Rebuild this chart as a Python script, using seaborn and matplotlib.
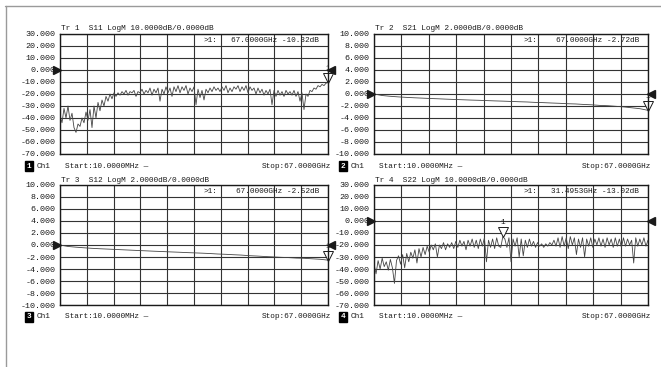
import numpy as np
import matplotlib
matplotlib.use('Agg')
import matplotlib.pyplot as plt
import matplotlib.transforms as mtransforms
from matplotlib.lines import Line2D
import seaborn as sns

# sweep (linear, as on the analyzer)
START_GHZ = 0.01
STOP_GHZ = 67.0

# S11, ~0.5 GHz steps
s11_db = [
    -38, -44, -32, -40, -30, -42, -36, -48, -52, -45,
    -47, -40, -44, -35, -42, -33, -48, -30, -40, -27,
    -34, -25, -30, -22, -26, -20, -24, -19, -22, -19,
    -21, -18, -20, -17, -21, -18, -19, -17, -22, -18,
    -19, -16, -20, -17, -19, -15, -21, -16, -19, -15,
    -26, -16, -20, -14, -19, -15, -22, -14, -18, -13,
    -19, -14, -17, -13, -20, -15, -18, -14, -29, -16,
    -23, -17, -25, -16, -19, -15, -18, -14, -17, -15,
    -18, -14, -17, -13, -19, -15, -18, -14, -16, -13,
    -18, -14, -17, -13, -19, -14, -17, -15, -20, -15,
    -19, -16, -21, -17, -20, -16, -29, -17, -22, -17,
    -21, -18, -22, -17, -20, -18, -21, -17, -22, -18,
    -26, -19, -33, -20, -22, -17, -18, -15, -16, -13,
    -14, -12, -13, -11, -10.32,
]

# S22, ~0.5 GHz steps
s22_db = [
    -36, -44, -33, -40, -31, -38, -34, -41, -32, -39,
    -52, -33, -29, -36, -28, -39, -27, -34, -26, -31,
    -24, -35, -23, -30, -22, -28, -21, -26, -20, -24,
    -19, -30, -20, -23, -18, -24, -19, -22, -18, -23,
    -17, -22, -16, -21, -17, -24, -16, -21, -15, -22,
    -16, -23, -15, -21, -14, -34, -16, -22, -15, -23,
    -14, -21, -22, -13, -15, -22, -14, -34, -15, -21,
    -14, -30, -15, -29, -16, -22, -15, -21, -17, -22,
    -18, -21, -19, -22, -19, -21, -18, -20, -16, -21,
    -14, -22, -13, -21, -14, -23, -13, -20, -14, -28,
    -15, -22, -14, -30, -15, -21, -14, -22, -15, -20,
    -14, -21, -15, -22, -14, -20, -15, -22, -14, -21,
    -15, -22, -14, -21, -15, -20, -16, -35, -14, -21,
    -15, -20, -14, -21, -16,
]

# S21 / S12, ~2 GHz steps
s21_db = [
    0.00, -0.25, -0.38, -0.48, -0.56, -0.63, -0.69, -0.75, -0.80, -0.86,
    -0.91, -0.96, -1.01, -1.05, -1.10, -1.15, -1.19, -1.24, -1.29, -1.33,
    -1.40, -1.44, -1.50, -1.55, -1.62, -1.66, -1.74, -1.80, -1.90, -1.95,
    -2.05, -2.15, -2.30, -2.45, -2.72,
]
s12_db = [
    0.00, -0.24, -0.36, -0.46, -0.55, -0.62, -0.68, -0.74, -0.80, -0.86,
    -0.92, -0.98, -1.04, -1.09, -1.15, -1.20, -1.26, -1.31, -1.36, -1.42,
    -1.50, -1.55, -1.62, -1.68, -1.78, -1.84, -1.92, -1.98, -2.05, -2.10,
    -2.18, -2.22, -2.30, -2.38, -2.52,
]

trace_names = ['S11', 'S21', 'S12', 'S22']
trace_data = [s11_db, s21_db, s12_db, s22_db]
scale_db = [10, 2, 2, 10]
top_db = [30, 10, 10, 30]
ref_db = [0, 0, 0, 0]
marker_ghz = [67.0, 67.0, 67.0, 31.4953]
marker_db = [-10.32, -2.72, -2.52, -13.02]

# panel boxes in pixels: left, top, right, bottom
boxes = [(60, 34, 328, 154), (374, 34, 648, 154),
         (60, 185, 328, 305), (374, 185, 648, 305)]

W, H = 661, 367
sns.set_style('white')
plt.rcParams['font.family'] = ['Liberation Mono', 'DejaVu Sans Mono']
FS = 5.6
INK = '#1a1a1a'
GRID = '#333333'
TRACE = '#454545'

fig = plt.figure(figsize=(W / 100, H / 100), dpi=100)


def ftext(x, y, s, **kw):
    kw.setdefault('va', 'center')
    kw.setdefault('fontsize', FS)
    kw.setdefault('color', INK)
    return fig.text(x / W, 1 - y / H, s, **kw)


# outer frame (top and left only)
fig.add_artist(Line2D([5 / W, 1], [1 - 6 / H, 1 - 6 / H], color='#9a9a9a', lw=1.0))
fig.add_artist(Line2D([6 / W, 6 / W], [0, 1 - 6 / H], color='#9a9a9a', lw=1.0))

for k in range(4):
    l, t, r, b = boxes[k]
    ax = fig.add_axes([l / W, 1 - b / H, (r - l) / W, (b - t) / H])
    vals = trace_data[k]
    freq = np.linspace(START_GHZ, STOP_GHZ, len(vals))
    sns.lineplot(x=freq, y=vals, ax=ax, color=TRACE, lw=0.6)

    top = top_db[k]
    bot = top - 10 * scale_db[k]
    ax.set_xlim(START_GHZ, STOP_GHZ)
    ax.set_ylim(bot, top)
    ax.set_xticks(np.linspace(START_GHZ, STOP_GHZ, 11))
    ax.set_xticklabels([])
    yt = [top - i * scale_db[k] for i in range(11)]
    ax.set_yticks(yt)
    ax.set_yticklabels([f'{v:.3f}' for v in yt], fontsize=FS + 0.4, color=INK)
    ax.tick_params(length=0, pad=3)
    ax.grid(True, color=GRID, lw=0.8)
    for sp in ax.spines.values():
        sp.set_color(INK)
        sp.set_linewidth(1.0)
    ax.set_xlabel('')
    ax.set_ylabel('')

    # reference level arrows
    tr = mtransforms.blended_transform_factory(ax.transAxes, ax.transData)
    ax.plot([0], [ref_db[k]], marker='>', ms=5.5, color=INK, clip_on=False,
            transform=mtransforms.offset_copy(tr, fig=fig, x=-2.5, units='points'))
    ax.plot([1], [ref_db[k]], marker='<', ms=5.5, color=INK, clip_on=False,
            transform=mtransforms.offset_copy(tr, fig=fig, x=2.5, units='points'))

    # marker 1
    ax.plot([marker_ghz[k]], [marker_db[k]], marker='v', ms=6.5, mfc='white',
            mec=INK, mew=0.7, clip_on=False,
            transform=mtransforms.offset_copy(ax.transData, fig=fig, y=3.3, units='points'))
    ax.annotate('1', (marker_ghz[k], marker_db[k]), xytext=(0, 10),
                textcoords='offset points', ha='center', va='center',
                fontsize=FS, color=INK, annotation_clip=False)

    # header, readout, footer
    ftext(l + 1, t - 5, f'Tr {k + 1}  {trace_names[k]} LogM {scale_db[k]:.4f}dB/0.0000dB')
    ftext(r - 124, t + 6.5, '>1:')
    ftext(r - 9, t + 6.5, f'{marker_ghz[k]:.4f}GHz {marker_db[k]:.2f}dB', ha='right')
    ftext(l - 31, b + 12, f'{k + 1}', ha='center', color='white', fontweight='bold',
          bbox=dict(boxstyle='square,pad=0.25', fc='black', ec='black'))
    ftext(l - 23, b + 12, 'Ch1')
    ftext(l + 5, b + 12, 'Start:10.0000MHz —')
    ftext(r + 3, b + 12, 'Stop:67.0000GHz', ha='right')

fig.savefig('out.png', dpi=100, facecolor='white')
